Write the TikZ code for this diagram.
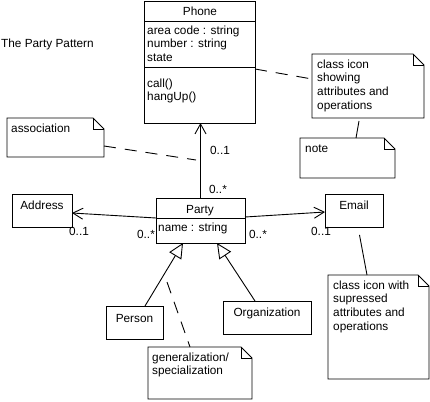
\documentclass[tikz,border=0pt]{standalone}
\usepackage{fontspec}
\setmainfont{Liberation Sans}
\usetikzlibrary{arrows.meta}
\newcommand\umlfont{\fontsize{11.8}{13.6}\selectfont}
\newcommand\tp{\rule{0pt}{9pt}}
\tikzset{
  ln/.style={line width=0.9pt},
  box/.style={draw, ln, inner sep=0pt, outer sep=0pt, anchor=north west},
  notebg/.style={inner sep=0pt, outer sep=0pt, anchor=north west},
  txt/.style={inner sep=0pt, font=\umlfont, text height=8pt, text depth=0pt},
  mtxt/.style={inner sep=0pt, font=\umlfont, align=left, anchor=north west},
  nav/.style={ln, -{Straight Barb[length=10pt, width=11pt, line width=0.9pt]}},
  gen/.style={ln, -{Triangle[open, length=15pt, width=14pt, line width=0.9pt]}},
  attach/.style={ln, dash pattern=on 12pt off 9pt},
}
\newcommand\umlnote[5]{%
  \node[notebg, minimum width=#4pt, minimum height=#5pt] (#1) at (#2,#3) {};
  \draw[ln] (#1.north west) -- ([xshift=-11pt]#1.north east) -- ([yshift=-11pt]#1.north east)
     -- (#1.south east) -- (#1.south west) -- cycle;
  \draw[ln] ([xshift=-11pt]#1.north east) |- ([yshift=-11pt]#1.north east);
}
\begin{document}
\begin{tikzpicture}[x=1pt, y=-1pt]
\useasboundingbox[fill=white] (0,0) rectangle (430,401);

% title
\node[txt, anchor=west] (title) at (1,44) {The Party Pattern};

% Phone class
\node[box, minimum width=111pt, minimum height=122pt] (Phone) at (144,1) {};
\draw[ln] ([yshift=-20pt]Phone.north west) -- ([yshift=-20pt]Phone.north east);
\draw[ln] ([yshift=-66pt]Phone.north west) -- ([yshift=-66pt]Phone.north east);
\node[txt] (phonename) at (200,12) {Phone};
\node[mtxt] (phoneattr) at (147,25) {\tp area code : string\\number : string\\state};
\node[mtxt] (phoneops) at (147,78) {\tp call()\\hangUp()};

% Party class
\node[box, minimum width=89pt, minimum height=45pt] (Party) at (156,198) {};
\draw[ln] ([yshift=-20pt]Party.north west) -- ([yshift=-20pt]Party.north east);
\node[txt] (partyname) at (200,209) {Party};
\node[txt, anchor=west] (partyattr) at (158,227) {name : string};

% other classes
\node[box, minimum width=60pt, minimum height=33pt] (Address) at (12,194) {};
\node[txt] (addrname) at (42,205) {Address};
\node[box, minimum width=58pt, minimum height=33pt] (Email) at (325,194) {};
\node[txt] (emailname) at (354,205) {Email};
\node[box, minimum width=57pt, minimum height=33pt] (Person) at (106,306) {};
\node[txt] (personname) at (134.5,318) {Person};
\node[box, minimum width=88pt, minimum height=33pt] (Org) at (223,301) {};
\node[txt] (orgname) at (267,312) {Organization};

% notes
\umlnote{assocnote}{7}{118}{97}{39}
\node[txt, anchor=west] (assoctext) at (11,128) {association};
\umlnote{classnote}{312}{54}{112}{64}
\node[mtxt] (classtext) at (317,59) {\tp class icon\\showing\\attributes and\\operations};
\umlnote{notenote}{300}{138}{95}{40}
\node[txt, anchor=west] (notetext) at (305,148) {note};
\umlnote{emailnote}{328}{275}{101}{104}
\node[mtxt] (emailtext) at (333,280) {\tp class icon with\\supressed\\attributes and\\operations};
\umlnote{gennote}{148}{347}{104}{52}
\node[mtxt] (gentext) at (152,352) {\tp generalization/\\specialization};

% associations
\draw[nav] (Party.north) -- (Party.north |- Phone.south);
\node[txt] (m1) at (220,150) {0..1};
\node[txt] (m2) at (218,189) {0..*};
\draw[nav] ([yshift=2.5pt]Party.west) -- ([yshift=-2.5pt]Address.east);
\node[txt] (m3) at (79,231) {0..1};
\node[txt] (m4) at (146,234) {0..*};
\draw[nav] ([yshift=3.5pt]Party.east) -- ([yshift=-1.5pt]Email.west);
\node[txt] (m5) at (258,234) {0..*};
\node[txt] (m6) at (321,231) {0..1};

% generalizations
\draw[gen] ([xshift=10.5pt]Person.north) -- ([xshift=-17.5pt]Party.south);
\draw[gen] ([xshift=-12pt]Org.north) -- ([xshift=16.5pt]Party.south);

% note attachments
\coordinate (assocpt) at (196,160);
\draw[attach] ([yshift=-8.5pt]assocnote.east) -- (assocpt);
\draw[attach] ([yshift=-7pt]Phone.east) -- ([yshift=7pt]classnote.west);
\draw[ln] ([xshift=-9pt,yshift=-3pt]classnote.south) -- ([xshift=8.5pt]notenote.north);
\draw[attach, dash pattern=on 0pt off 8pt on 40pt] ([xshift=4pt]Email.south) -- ([xshift=-11.5pt]emailnote.north);
\coordinate (genpt) at (167,282);
\draw[attach] (genpt) -- ([xshift=-10pt]gennote.north);
\end{tikzpicture}
\end{document}
